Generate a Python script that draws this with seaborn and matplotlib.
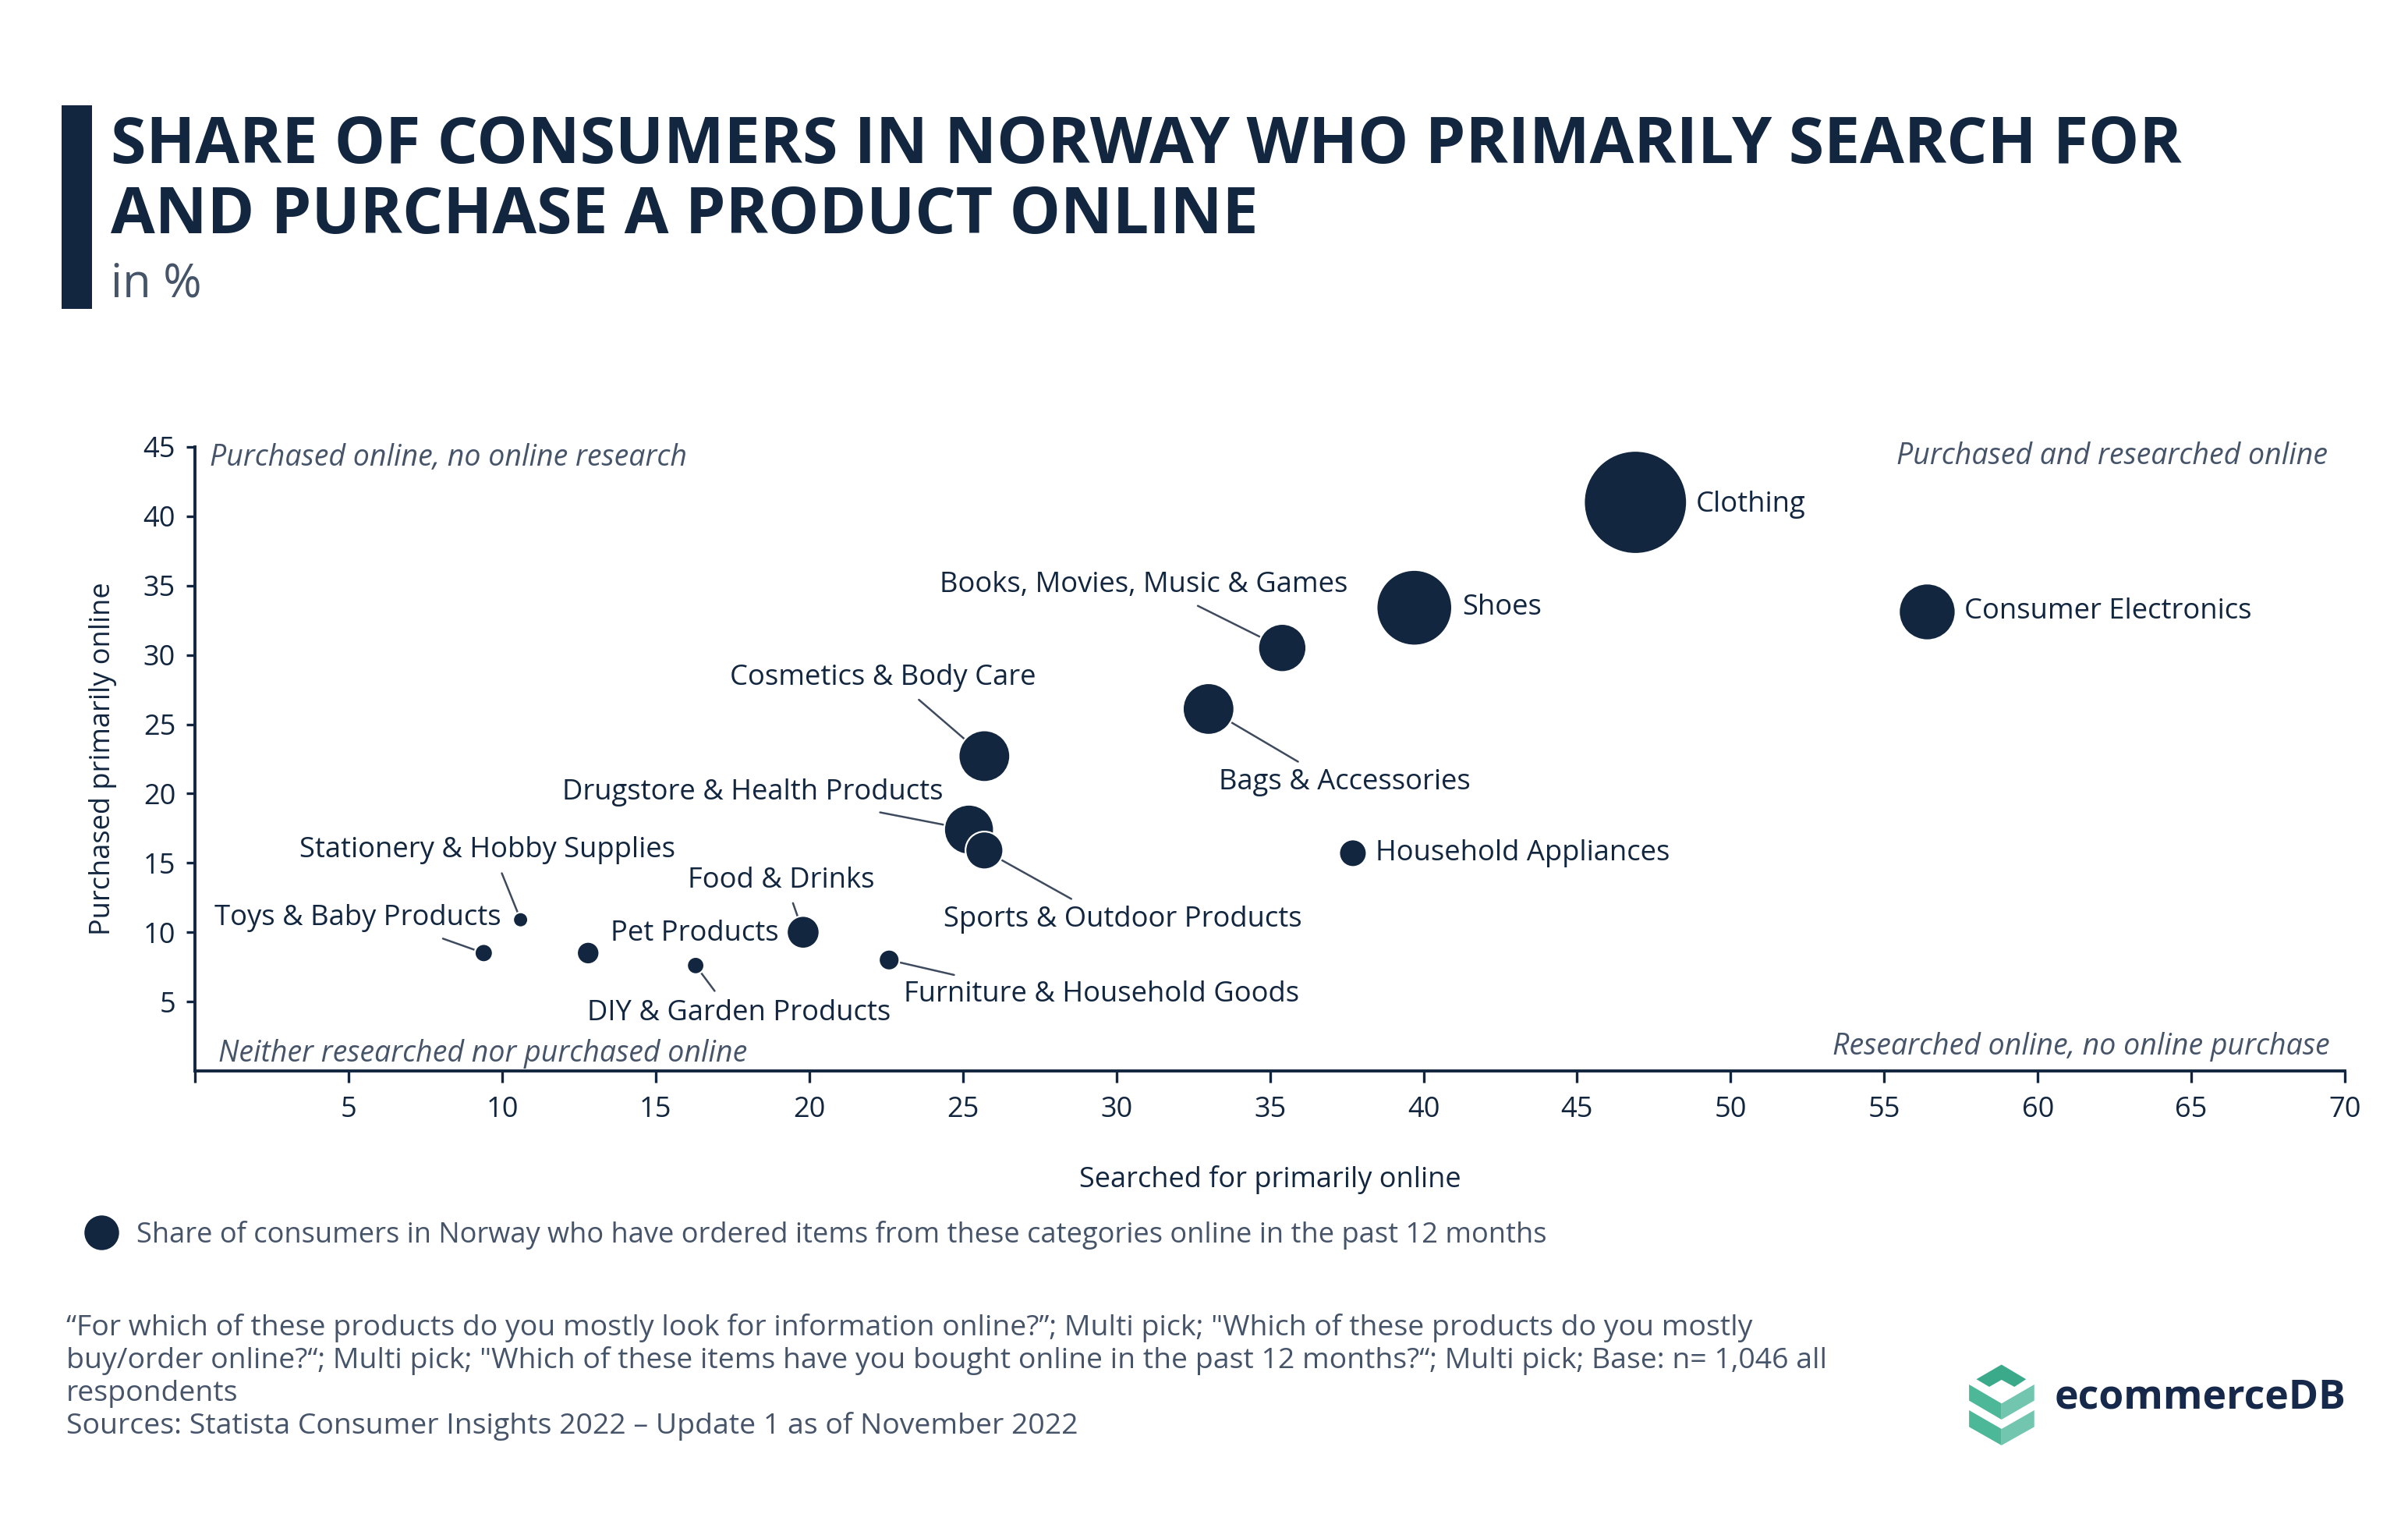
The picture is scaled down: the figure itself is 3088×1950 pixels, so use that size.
import matplotlib.pyplot as plt
import matplotlib.colors as mcolors
from matplotlib.lines import Line2D
from matplotlib.patches import Polygon, Rectangle
import pandas as pd
import seaborn as sns

NAVY = '#12263F'
SLATE = '#46546A'
LINE = '#3E4B5E'

categories = [
    'Clothing', 'Shoes', 'Consumer Electronics', 'Books, Movies, Music & Games',
    'Bags & Accessories', 'Cosmetics & Body Care', 'Drugstore & Health Products',
    'Sports & Outdoor Products', 'Household Appliances', 'Food & Drinks',
    'Furniture & Household Goods', 'Pet Products', 'DIY & Garden Products',
    'Toys & Baby Products', 'Stationery & Hobby Supplies',
]
searched = [46.9, 39.7, 56.4, 35.4, 33.0, 25.7, 25.2, 25.7, 37.7, 19.8, 22.6, 12.8, 16.3, 9.4, 10.6]
purchased = [41.0, 33.4, 33.1, 30.5, 26.1, 22.7, 17.4, 15.9, 15.7, 10.0, 8.0, 8.5, 7.6, 8.5, 10.9]
ordered = [60, 44, 33, 28, 30, 30, 29, 22, 16, 19, 12, 13, 10, 10.5, 8.7]

# label offsets (points), alignment and anchor of the leader line on the text box
label_style = {
    'Clothing': (28, -1, 'left', None),
    'Shoes': (22, 0, 'left', None),
    'Consumer Electronics': (17, 0, 'left', None),
    'Books, Movies, Music & Games': (-64, 29, 'center', (0.6, 0)),
    'Bags & Accessories': (63, -34, 'center', (0.36, 1)),
    'Cosmetics & Body Care': (-47, 36, 'center', (0.59, 0)),
    'Drugstore & Health Products': (-100, 17, 'center', (0.76, 0)),
    'Sports & Outdoor Products': (64, -32, 'center', (0.39, 1)),
    'Household Appliances': (10.5, 0, 'left', None),
    'Food & Drinks': (-10, 24, 'center', (0.545, 0)),
    'Furniture & Household Goods': (98, -16, 'center', (0.19, 1)),
    'Pet Products': (10.5, 9, 'left', None),
    'DIY & Garden Products': (20, -22, 'center', (0.44, 1)),
    'Toys & Baby Products': (-58, 16, 'center', (0.735, 0)),
    'Stationery & Hobby Supplies': (-15.5, 32, 'center', (0.53, 0)),
}

df = pd.DataFrame({'category': categories, 'searched': searched,
                   'purchased': purchased, 'ordered': ordered})

sns.set_theme(style='white')
plt.rcParams['font.family'] = ['Open Sans', 'DejaVu Sans']

fig = plt.figure(figsize=(15.44, 9.75), dpi=200)
ax = fig.add_axes([0.081, 0.2959, 0.8928, 0.4103])

# bubble width proportional to value
sns.scatterplot(data=df, x='searched', y='purchased', size='ordered',
                sizes=(0, 2258), size_norm=mcolors.PowerNorm(2, vmin=0, vmax=max(ordered)),
                color=NAVY, edgecolor='white', linewidth=0.8, alpha=1,
                legend=False, ax=ax, zorder=2)

for name, x, y in zip(categories, searched, purchased):
    dx, dy, ha, rel = label_style[name]
    arrow = None
    if rel is not None:
        arrow = dict(arrowstyle='-', color=LINE, lw=0.9, relpos=rel, shrinkA=2, shrinkB=0)
    ax.annotate(name, xy=(x, y), xytext=(dx, dy), textcoords='offset points',
                ha=ha, va='center', fontsize=13.1, color=NAVY,
                arrowprops=arrow, zorder=1)

ax.set_xlim(0, 70)
ax.set_ylim(0, 45)
ax.set_xticks(range(0, 71, 5))
ax.set_xticklabels([''] + [str(v) for v in range(5, 71, 5)])
ax.set_yticks(range(5, 46, 5))
ax.tick_params(axis='x', direction='out', length=5.5, width=1.2, color=NAVY,
               labelsize=13, labelcolor=NAVY, pad=6, bottom=True)
ax.tick_params(axis='y', direction='out', length=4, width=1.2, color=NAVY,
               labelsize=13, labelcolor=NAVY, pad=5, left=True)
sns.despine(ax=ax)
for side in ['left', 'bottom']:
    ax.spines[side].set_color(NAVY)
    ax.spines[side].set_linewidth(1.4)
ax.set_xlabel('Searched for primarily online', fontsize=13, color=NAVY, labelpad=19)
ax.set_ylabel('Purchased primarily online', fontsize=13, color=NAVY, labelpad=12)

quad = dict(transform=ax.transAxes, fontsize=13.5, color=SLATE, style='italic', va='center')
ax.text(0.007, 0.983, 'Purchased online, no online research', ha='left', **quad)
ax.text(0.992, 0.985, 'Purchased and researched online', ha='right', **quad)
ax.text(0.011, 0.027, 'Neither researched nor purchased online', ha='left', **quad)
ax.text(0.993, 0.039, 'Researched online, no online purchase', ha='right', **quad)

# header
fig.add_artist(Rectangle((0.0256, 0.797), 0.0126, 0.134, transform=fig.transFigure,
                         color=NAVY, lw=0))
fig.text(0.046, 0.893, 'SHARE OF CONSUMERS IN NORWAY WHO PRIMARILY SEARCH FOR',
         fontsize=29.6, fontweight='bold', color=NAVY, va='baseline')
fig.text(0.046, 0.8466, 'AND PURCHASE A PRODUCT ONLINE',
         fontsize=29.6, fontweight='bold', color=NAVY, va='baseline')
fig.text(0.046, 0.805, 'in %', fontsize=21.5, color=SLATE, va='baseline')

# legend
handle = Line2D([], [], marker='o', linestyle='', markersize=15, color=NAVY)
fig.legend([handle], ['Share of consumers in Norway who have ordered items from these categories online in the past 12 months'],
           loc='center left', bbox_to_anchor=(0.0245, 0.188), frameon=False,
           fontsize=13.05, labelcolor=SLATE, handletextpad=0.25, borderpad=0)

# footnote
note = ('\u201cFor which of these products do you mostly look for information online?\u201d; Multi pick; "Which of these products do you mostly\n'
        'buy/order online?\u201c; Multi pick; "Which of these items have you bought online in the past 12 months?\u201c; Multi pick; Base: n= 1,046 all\n'
        'respondents\n'
        'Sources: Statista Consumer Insights 2022 \u2013 Update 1 as of November 2022')
fig.text(0.0275, 0.1365, note, fontsize=13.45, color=SLATE, va='top', ha='left', linespacing=1.2)

# logo
def px(points):
    return [(x / 3088, 1 - y / 1950) for x, y in points]

ox, oy, k = 2500, 1700, 1 / 2.667
def logo(points):
    return px([(ox + x * k, oy + y * k) for x, y in points])

shapes = [
    ([(92, 182), (178, 132), (262, 182), (222, 208), (178, 184), (136, 208)], '#3AAA8A'),
    ([(67, 200), (178, 265), (178, 320), (67, 255)], '#4DB898'),
    ([(178, 265), (290, 200), (290, 255), (178, 320)], '#72C6AF'),
    ([(67, 288), (178, 352), (178, 408), (67, 345)], '#4DB898'),
    ([(178, 352), (290, 288), (290, 345), (178, 408)], '#72C6AF'),
]
for pts, col in shapes:
    fig.add_artist(Polygon(logo(pts), closed=True, transform=fig.transFigure,
                           color=col, lw=0))
fig.text(0.8533, 1 - 1792 / 1950, 'ecommerceDB',
         fontsize=18.6, fontweight='bold', color='#17294A', va='center', ha='left')

fig.savefig('out.png', dpi=200, facecolor='white')
